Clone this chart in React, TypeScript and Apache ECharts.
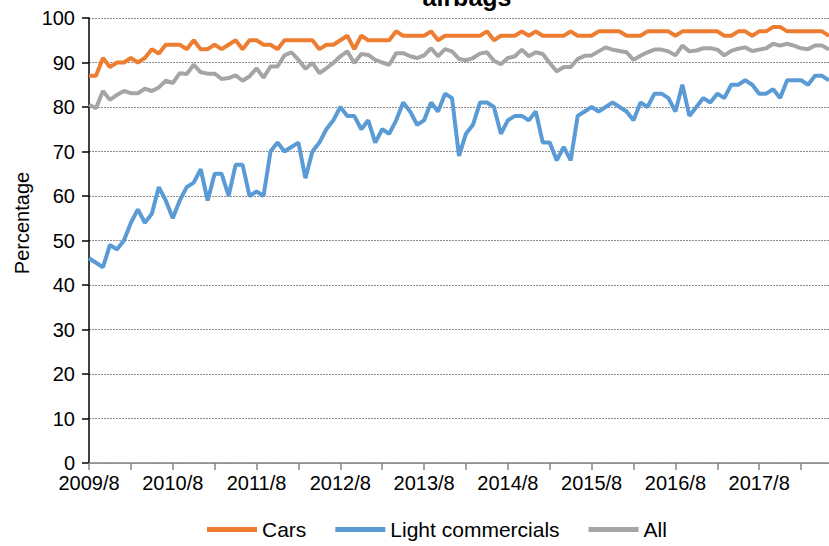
import React, { useEffect, useRef } from "react";
import * as echarts from "echarts";

// Monthly categories: 2009/8 .. 2018/6
const START_YEAR = 2009;
const START_MONTH = 8;
const N_MONTHS = 107;
const months: string[] = [];
for (let k = 0; k < N_MONTHS; k++) {
  const m = START_MONTH - 1 + k;
  months.push(`${START_YEAR + Math.floor(m / 12)}/${(m % 12) + 1}`);
}

const cars = [
  87, 87, 91, 89, 90, 90, 91, 90, 91, 93, 92, 94, 94, 94, 93, 95, 93, 93, 94, 93,
  94, 95, 93, 95, 95, 94, 94, 93, 95, 95, 95, 95, 95, 93, 94, 94, 95, 96, 93, 96,
  95, 95, 95, 95, 97, 96, 96, 96, 96, 97, 95, 96, 96, 96, 96, 96, 96, 97, 95, 96,
  96, 96, 97, 96, 97, 96, 96, 96, 96, 97, 96, 96, 96, 97, 97, 97, 97, 96, 96, 96,
  97, 97, 97, 97, 96, 97, 97, 97, 97, 97, 97, 96, 96, 97, 97, 96, 97, 97, 98, 98,
  97, 97, 97, 97, 97, 97, 96,
];

const lightCommercials = [
  46, 45, 44, 49, 48, 50, 54, 57, 54, 56, 62, 59, 55, 59, 62, 63, 66, 59, 65, 65,
  60, 67, 67, 60, 61, 60, 70, 72, 70, 71, 72, 64, 70, 72, 75, 77, 80, 78, 78, 75,
  77, 72, 75, 74, 77, 81, 79, 76, 77, 81, 79, 83, 82, 69, 74, 76, 81, 81, 80, 74,
  77, 78, 78, 77, 79, 72, 72, 68, 71, 68, 78, 79, 80, 79, 80, 81, 80, 79, 77, 81,
  80, 83, 83, 82, 79, 85, 78, 80, 82, 81, 83, 82, 85, 85, 86, 85, 83, 83, 84, 82,
  86, 86, 86, 85, 87, 87, 86,
];

const all = [
  80.5, 79.7, 83.6, 81.6, 82.7, 83.6, 83.1, 83.1, 84.1, 83.6, 84.4, 85.9, 85.4, 87.6, 87.4, 89.5, 87.8, 87.5, 87.5, 86.3,
  86.5, 87.1, 85.9, 86.9, 88.7, 86.6, 89.1, 89.1, 91.6, 92.3, 90.6, 88.6, 89.9, 87.6, 88.7, 89.9, 91.4, 92.5, 89.9, 91.9,
  91.7, 90.6, 90.0, 89.5, 92.1, 92.1, 91.4, 91.0, 91.6, 93.2, 91.4, 93.0, 92.5, 90.8, 90.5, 91.0, 92.0, 92.3, 90.4, 89.6,
  91.0, 91.4, 92.9, 91.4, 92.3, 91.9, 89.9, 88.0, 89.0, 89.0, 90.8, 91.5, 91.6, 92.5, 93.4, 92.9, 92.6, 92.3, 90.6, 91.5,
  92.3, 92.9, 92.9, 92.5, 91.6, 93.8, 92.5, 92.7, 93.2, 93.2, 92.9, 91.6, 92.6, 93.1, 93.4, 92.6, 92.9, 93.2, 94.2, 93.8,
  94.2, 93.8, 93.2, 93.0, 93.8, 93.8, 92.9,
];

const yTicks = { min: 0, max: 100, interval: 10 };
const seriesNames = ["Cars", "Light commercials", "All"];
const colors = ["#ED7D31", "#5B9BD5", "#A5A5A5"];
const FONT = "Liberation Sans, Arial, sans-serif";

export default function App() {
  const ref = useRef<HTMLDivElement>(null);
  useEffect(() => {
    if (!ref.current) return;
    const chart = echarts.init(ref.current, undefined, { renderer: "svg" });
    const data = [cars, lightCommercials, all];
    chart.setOption({
      animation: false,
      backgroundColor: "#ffffff",
      textStyle: { fontFamily: FONT },
      graphic: [
        {
          type: "text",
          x: 467,
          y: 9,
          style: {
            text: "airbags",
            textAlign: "center",
            textVerticalAlign: "bottom",
            font: `bold 25px ${FONT}`,
            fill: "#000",
          },
        },
        {
          type: "text",
          x: 22,
          y: 223,
          rotation: Math.PI / 2,
          style: {
            text: "Percentage",
            textAlign: "center",
            textVerticalAlign: "middle",
            font: `20px ${FONT}`,
            fill: "#000",
          },
        },
      ],
      grid: { left: 89, right: 0, top: 18, bottom: 83, containLabel: false },
      legend: {
        bottom: 1,
        left: 202,
        itemWidth: 50,
        itemHeight: 5,
        itemGap: 29,
        icon: "rect",
        textStyle: { fontSize: 21, color: "#000", fontFamily: FONT },
        data: seriesNames,
      },
      xAxis: {
        type: "category",
        boundaryGap: false,
        data: months,
        axisLine: { lineStyle: { color: "#868686", width: 1.5 } },
        axisTick: { interval: 5, length: 7, lineStyle: { color: "#868686", width: 1.5 } },
        axisLabel: {
          interval: 11,
          margin: 10,
          fontSize: 20,
          color: "#000",
          fontFamily: FONT,
        },
        splitLine: { show: false },
      },
      yAxis: {
        type: "value",
        min: yTicks.min,
        max: yTicks.max,
        interval: yTicks.interval,
        axisLine: { show: true, lineStyle: { color: "#000", width: 1.5 } },
        axisTick: { show: true, length: 7, lineStyle: { color: "#000", width: 1.5 } },
        axisLabel: { margin: 14, fontSize: 20, color: "#000", fontFamily: FONT },
        splitLine: { show: true, lineStyle: { color: "#8c8c8c", type: [2, 1], width: 1 } },
      },
      series: seriesNames.map((name, k) => ({
        name,
        type: "line",
        data: data[k],
        showSymbol: false,
        symbol: "none",
        color: colors[k],
        lineStyle: { width: 4, color: colors[k] },
        z: k === 0 ? 4 : k === 1 ? 3 : 2,
      })),
    });
    return () => chart.dispose();
  }, []);
  return (
    <div
      ref={ref}
      style={{ position: "fixed", left: 0, top: 0, width: 829, height: 546 }}
    />
  );
}
